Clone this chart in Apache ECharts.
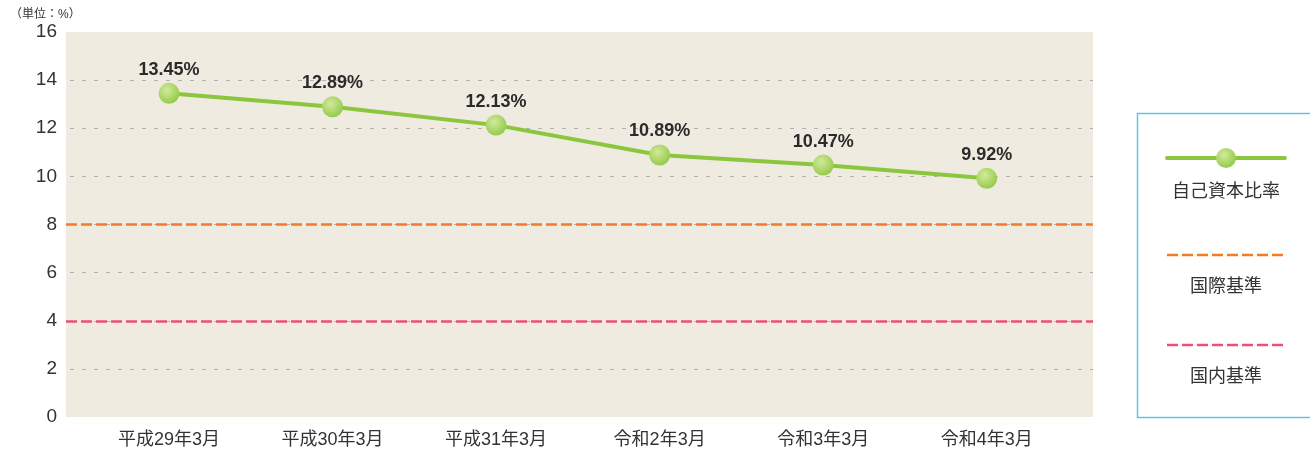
<!DOCTYPE html>
<html>
<head>
<meta charset="utf-8">
<script src="https://cdn.jsdelivr.net/npm/echarts@6/dist/echarts.min.js"></script>
<style>
  html, body { margin: 0; padding: 0; background: #fff; }
  #chart { width: 1310px; height: 453px; }
</style>
</head>
<body>
<div id="chart"></div>
<script>
// data
var categories = ['平成29年3月', '平成30年3月', '平成31年3月', '令和2年3月', '令和3年3月', '令和4年3月'];
var ratio = [13.45, 12.89, 12.13, 10.89, 10.47, 9.92];
var intlStandard = 8;
var domesticStandard = 4;
var yTicks = [0, 2, 4, 6, 8, 10, 12, 14, 16];

var FONT = '"Liberation Sans", "Noto Sans CJK JP", sans-serif';
var GREEN = '#8cc63e';
var ORANGE = '#f27b2a';
var PINK = '#ea5078';
var dotFill = {
  type: 'radial', x: 0.4, y: 0.35, r: 0.75,
  colorStops: [{ offset: 0, color: '#d2ea9c' }, { offset: 1, color: '#8cc63e' }]
};

var chart = echarts.init(document.getElementById('chart'));

var option = {
  animation: false,
  backgroundColor: '#fff',
  grid: {
    left: 66,
    right: 217,
    top: 32,
    bottom: 36,
    show: true,
    backgroundColor: '#efebe1',
    borderWidth: 0
  },
  xAxis: {
    type: 'value',
    min: -0.63,
    max: 5.65,
    axisLine: { show: false },
    axisTick: { show: false },
    splitLine: { show: false },
    axisLabel: {
      customValues: [0, 1, 2, 3, 4, 5],
      formatter: function (v) { return categories[Math.round(v)]; },
      margin: 14,
      fontSize: 18,
      color: '#333',
      fontFamily: FONT
    }
  },
  yAxis: {
    type: 'value',
    min: yTicks[0],
    max: yTicks[yTicks.length - 1],
    interval: 2,
    axisLine: { show: false },
    axisTick: { show: false },
    axisLabel: {
      margin: 9,
      fontSize: 19,
      color: '#333',
      fontFamily: FONT
    },
    splitLine: {
      show: true,
      showMinLine: false,
      showMaxLine: false,
      lineStyle: { color: '#b4b2ad', width: 1, type: [4, 8], dashOffset: -4 }
    }
  },
  series: [
    {
      name: '国際基準',
      type: 'line',
      data: [],
      markLine: {
        silent: true,
        symbol: 'none',
        label: { show: false },
        lineStyle: { color: ORANGE, width: 2.5, type: [11, 4] },
        data: [{ yAxis: intlStandard }]
      }
    },
    {
      name: '国内基準',
      type: 'line',
      data: [],
      markLine: {
        silent: true,
        symbol: 'none',
        label: { show: false },
        lineStyle: { color: PINK, width: 2.5, type: [11, 4] },
        data: [{ yAxis: domesticStandard }]
      }
    },
    {
      name: '自己資本比率',
      type: 'line',
      data: ratio.map(function (v, i) { return [i, v]; }),
      symbol: 'circle',
      symbolSize: 21,
      lineStyle: { color: GREEN, width: 4 },
      itemStyle: { color: dotFill },
      label: {
        show: true,
        position: 'top',
        distance: 4,
        formatter: function (p) { return p.value[1].toFixed(2) + '%'; },
        fontSize: 18,
        fontWeight: 'bold',
        color: '#2b2b2b',
        fontFamily: FONT
      },
      z: 5
    }
  ],
  graphic: [
    { type: 'text', left: 10, top: 9, style: { text: '（単位：%）', fontSize: 12, fill: '#333', fontFamily: FONT } },
    { type: 'rect', shape: { x: 1137.5, y: 113.5, width: 180, height: 304 }, style: { fill: '#fff', stroke: '#5cc6e4', lineWidth: 1.5 } },
    { type: 'line', shape: { x1: 1167, y1: 158, x2: 1285, y2: 158 }, style: { stroke: GREEN, lineWidth: 4, lineCap: 'round' } },
    { type: 'circle', shape: { cx: 1226, cy: 158, r: 10 }, style: { fill: dotFill } },
    { type: 'text', x: 1226, y: 192, style: { text: '自己資本比率', fontSize: 18, fill: '#333', fontFamily: FONT, align: 'center', verticalAlign: 'middle' } },
    { type: 'line', shape: { x1: 1167, y1: 255, x2: 1285, y2: 255 }, style: { stroke: ORANGE, lineWidth: 2.5, lineDash: [11, 4] } },
    { type: 'text', x: 1226, y: 287, style: { text: '国際基準', fontSize: 18, fill: '#333', fontFamily: FONT, align: 'center', verticalAlign: 'middle' } },
    { type: 'line', shape: { x1: 1167, y1: 345, x2: 1285, y2: 345 }, style: { stroke: PINK, lineWidth: 2.5, lineDash: [11, 4] } },
    { type: 'text', x: 1226, y: 377, style: { text: '国内基準', fontSize: 18, fill: '#333', fontFamily: FONT, align: 'center', verticalAlign: 'middle' } }
  ]
};

chart.setOption(option);
</script>
</body>
</html>
